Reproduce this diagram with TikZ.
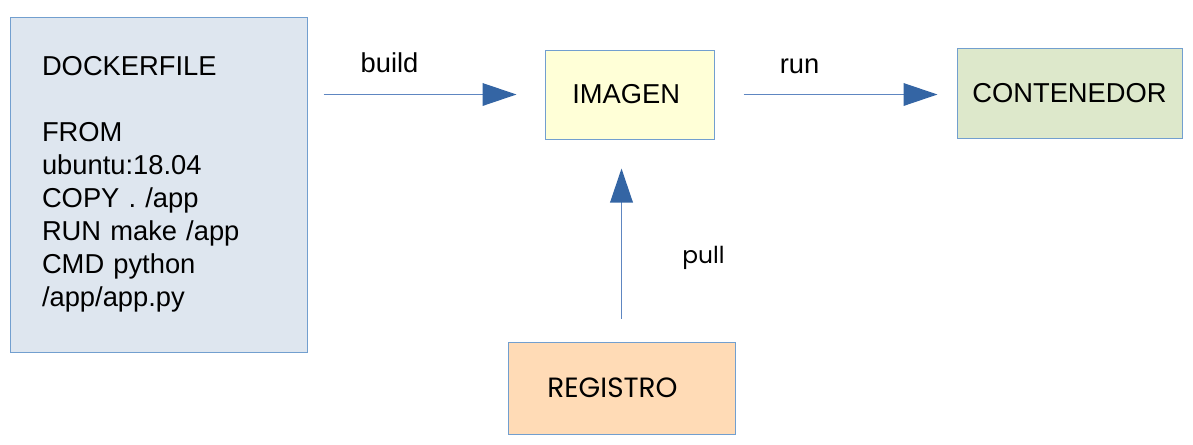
\documentclass[tikz,border=0pt]{standalone}
\usepackage{fontspec}
\setmainfont{Liberation Sans}
\newfontfamily\popfont{Poppins}
\usepackage{tikz}
\usetikzlibrary{arrows.meta}
\definecolor{boxline}{HTML}{729FCF}
\definecolor{lineblue}{HTML}{5E86C1}
\definecolor{headblue}{HTML}{3465A4}
\definecolor{dockfill}{HTML}{DEE6EF}
\definecolor{imgfill}{HTML}{FFFFD7}
\definecolor{contfill}{HTML}{DDE8CB}
\definecolor{regfill}{HTML}{FFDBB6}
\tikzstyle{box}=[draw=boxline, line width=0.75pt, rectangle,
    font=\fontsize{20.5}{24.75}\selectfont]
\tikzstyle{flow}=[draw=lineblue, line width=1pt,
    -{Triangle[length=25.5pt,width=17pt,color=headblue]}]
\tikzstyle{lbl}=[font=\fontsize{20.5}{24.75}\selectfont]

\begin{document}
\begin{tikzpicture}[x=0.75pt,y=-0.75pt]
  \useasboundingbox (0,0) rectangle (1193,444);
  \node at (158.5,184.5) (docker)[box, fill=dockfill, align=left,
      text width=174.75pt, inner xsep=24pt, minimum height=251.25pt]
      {DOCKERFILE\\[24.75pt]FROM\\ubuntu:18.04\\COPY . /app\\RUN make /app\\CMD python\\/app/app.py};
  \node at (629.5,94.5) (imagen)[box, fill=imgfill,
      minimum width=126.75pt, minimum height=66.75pt] {IMAGEN\kern5pt};
  \node at (1069.5,93) (cont)[box, fill=contfill,
      minimum width=168.75pt, minimum height=67.5pt] {CONTENEDOR};
  \node at (621.5,388) (reg)[box, fill=regfill,
      minimum width=170.25pt, minimum height=69pt]
      {\fontsize{20.9}{24.75}\popfont REGISTRO\kern13.5pt};

  \draw[flow, shorten <=12pt, shorten >=21pt] (docker.east |- imagen.west) -- (imagen.west);
    \path (imagen.west) +(-155,-32) node (build)[lbl] {build};
  \draw[flow, shorten <=21.75pt, shorten >=14.25pt] (imagen.east) -- (imagen.east -| cont.west);
    \path (cont.west) +(-157,-27) node (run)[lbl] {run};
  \draw[flow, shorten <=17.25pt, shorten >=21.75pt] (reg.north) -- (reg.north |- imagen.south);
    \path (reg.north) +(82,-84) node (pull)[lbl] {\fontsize{17.5}{21}\popfont pull};
\end{tikzpicture}
\end{document}
